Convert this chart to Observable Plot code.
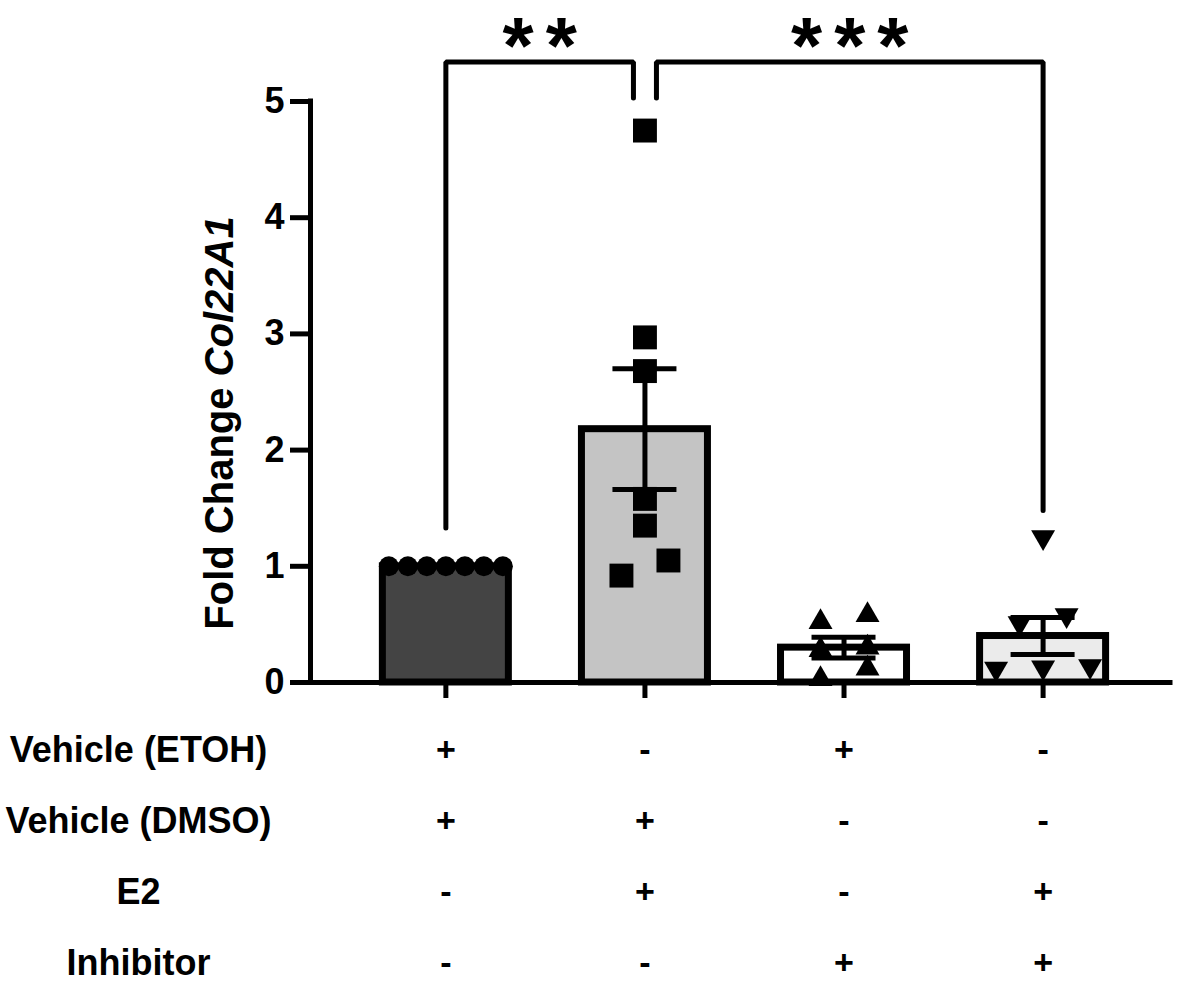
<!DOCTYPE html>
<html>
<head>
<meta charset="utf-8">
<script src="https://cdn.jsdelivr.net/npm/d3@7"></script>
<script src="https://cdn.jsdelivr.net/npm/@observablehq/plot@0.6"></script>
<style>
  body { margin: 0; background: #fff; }
  #chart svg { display: block; }
</style>
</head>
<body>
<div id="chart"></div>
<script>
// ---------- data ----------
const groupNames = ["Vehicle", "E2", "Inhibitor", "E2 + Inhibitor"];
const barMeans = [1.00, 2.18, 0.30, 0.40];
const barSEM = [0, 0.52, 0.09, 0.16];
const pointsVehicle = [1, 1, 1, 1, 1, 1, 1];
const pointsE2 = [4.75, 2.97, 2.68, 1.58, 1.35, 1.05, 0.92];
const pointsInhibitor = [0.58, 0.52, 0.30, 0.28, 0.12, 0.03];
const pointsE2Inhibitor = [1.25, 0.58, 0.51, 0.14, 0.13, 0.12];
const yTicks = [0, 1, 2, 3, 4, 5];
const yLabelMain = "Fold Change ";
const yLabelGene = "Col22A1";
const rowLabels = ["Vehicle (ETOH)", "Vehicle (DMSO)", "E2", "Inhibitor"];
const rowSigns = [
  ["+", "-", "+", "-"],
  ["+", "+", "-", "-"],
  ["-", "+", "-", "+"],
  ["-", "-", "+", "+"]
];
const compFrom = [0, 1];
const compTo = [1, 3];
const compLabels = ["**", "***"];
const compEndFrom = [1.33, 5.03];
const compEndTo = [5.03, 1.48];
const compLevel = 5.34;

// ---------- styles / layout ----------
const barColors = ["#444444", "#c4c4c4", "#ffffff", "#ebebeb"];
const W = 1181, H = 700, mL = 310, mR = 11, mT = 101, mB = 18;
const xDomain = [-0.68, 3.64];
const yDomain = [0, 5];
const pxPerX = (W - mL - mR) / (xDomain[1] - xDomain[0]);
const pxPerY = (H - mT - mB) / (yDomain[1] - yDomain[0]);
const barHalf = 63 / pxPerX;
const capHalf = 32 / pxPerX;
const gap = 11.5 / pxPerX;
const font = "'Liberation Sans', Arial, sans-serif";

// beeswarm-like layout (rows of nearby values centred on the group)
function swarm(values, gi, rowPx = 22, maxStep = 47, maxSpread = 114) {
  const sorted = values.map((v, k) => ({v, k})).sort((a, b) => a.v - b.v);
  const rows = [];
  for (const p of sorted) {
    const last = rows[rows.length - 1];
    if (last && (p.v - last[0].v) * pxPerY < rowPx) last.push(p);
    else rows.push([p]);
  }
  const out = [];
  for (const row of rows) {
    const n = row.length;
    const s = n > 1 ? Math.min(maxStep, maxSpread / (n - 1)) : 0;
    row.forEach((p, j) => out.push({group: groupNames[gi], value: p.v, x: gi + ((j - (n - 1) / 2) * s) / pxPerX}));
  }
  return out;
}

const bars = groupNames.map((g, i) => ({group: g, i, mean: barMeans[i], lo: barMeans[i] - barSEM[i], hi: barMeans[i] + barSEM[i], sem: barSEM[i]}));
const errs = bars.filter(d => d.sem > 0);

const downTriangle = {
  draw(context, size) {
    const y = Math.sqrt(size / (Math.sqrt(3) * 3));
    context.moveTo(0, 2 * y);
    context.lineTo(Math.sqrt(3) * y, -y);
    context.lineTo(-Math.sqrt(3) * y, -y);
    context.closePath();
  }
};

// brackets
const endpointCount = {};
compFrom.forEach((f, k) => { endpointCount[f] = (endpointCount[f] || 0) + 1; endpointCount[compTo[k]] = (endpointCount[compTo[k]] || 0) + 1; });
const bracketPts = [];
const comps = [];
compFrom.forEach((f, k) => {
  const t = compTo[k];
  const xa = f + (endpointCount[f] > 1 ? gap : 0);
  const xb = t - (endpointCount[t] > 1 ? gap : 0);
  bracketPts.push({k, x: xa, y: compEndFrom[k]}, {k, x: xa, y: compLevel}, {k, x: xb, y: compLevel}, {k, x: xb, y: compEndTo[k]});
  comps.push({x: (xa + xb) / 2, label: compLabels[k]});
});

const starSpacing = 12;

const chart = Plot.plot({
  width: W, height: H,
  marginLeft: mL, marginRight: mR, marginTop: mT, marginBottom: mB,
  style: {fontFamily: font, fontWeight: "bold", background: "white", color: "black", overflow: "visible"},
  x: {domain: xDomain, axis: null},
  y: {domain: yDomain, axis: null},
  color: {domain: groupNames, range: barColors},
  marks: [
    Plot.rectY(bars, {x1: d => d.i - barHalf, x2: d => d.i + barHalf, y1: 0, y2: "mean", fill: "group", stroke: "black", strokeWidth: 7}),
    Plot.ruleY([0], {strokeWidth: 5, strokeLinecap: "square"}),
    Plot.ruleX([xDomain[0]], {y1: yDomain[0], y2: yDomain[1], strokeWidth: 5, strokeLinecap: "square"}),
    Plot.axisY({ticks: yTicks, tickFormat: d => String(d), tickSize: 20, tickPadding: 6, fontSize: 36, fontWeight: "bold", strokeWidth: 5, label: null}),
    Plot.axisX({ticks: [0, 1, 2, 3], tickSize: 16, strokeWidth: 5, tickFormat: () => "", label: null}),
    Plot.dot(swarm(pointsVehicle, 0), {x: "x", y: "value", r: 10, symbol: "circle", fill: "black"}),
    Plot.dot(swarm(pointsE2, 1), {x: "x", y: "value", r: 13.5, symbol: "square", fill: "black"}),
    Plot.dot(swarm(pointsInhibitor, 2), {x: "x", y: "value", r: 8.9, symbol: "triangle", fill: "black"}),
    Plot.dot(swarm(pointsE2Inhibitor, 3), {x: "x", y: "value", r: 8.9, symbol: downTriangle, fill: "black"}),
    Plot.ruleX(errs, {x: "i", y1: "lo", y2: "hi", strokeWidth: 5}),
    Plot.ruleY(errs, {y: "hi", x1: d => d.i - capHalf, x2: d => d.i + capHalf, strokeWidth: 5}),
    Plot.ruleY(errs, {y: "lo", x1: d => d.i - capHalf, x2: d => d.i + capHalf, strokeWidth: 5}),
    Plot.line(bracketPts, {x: "x", y: "y", z: "k", stroke: "black", strokeWidth: 5, strokeLinejoin: "miter"}),
    Plot.text(comps, {x: "x", y: () => compLevel, text: "label", fontSize: 80, fontWeight: "bold", dy: -15, dx: starSpacing / 2}),
    Plot.text([yLabelMain + yLabelGene], {frameAnchor: "left", textAnchor: "middle", rotate: -90, dx: -90, dy: 31, fontSize: 40, fontWeight: "bold", text: d => d})
  ]
});

// letter spacing of the significance stars
Array.from(chart.querySelectorAll("text")).filter(t => compLabels.includes(t.textContent))
  .forEach(t => t.setAttribute("letter-spacing", starSpacing));

// italic gene name in the y label
const lbl = Array.from(chart.querySelectorAll("text")).find(t => t.textContent === yLabelMain + yLabelGene);
if (lbl) {
  lbl.textContent = "";
  const ns = "http://www.w3.org/2000/svg";
  lbl.setAttribute("style", "white-space: pre");
  lbl.setAttribute("text-anchor", "middle");
  const t1 = document.createElementNS(ns, "tspan");
  t1.textContent = yLabelMain;
  const t2 = document.createElementNS(ns, "tspan");
  t2.textContent = yLabelGene;
  t2.setAttribute("font-style", "italic");
  lbl.appendChild(t1);
  lbl.appendChild(t2);
}

// condition table below the chart
const signCells = [];
rowLabels.forEach((r, ri) => rowSigns[ri].forEach((s, gi) => signCells.push({row: r, i: gi, sign: s})));

const table = Plot.plot({
  width: W, height: 283,
  marginLeft: mL, marginRight: mR, marginTop: 0, marginBottom: 0,
  style: {fontFamily: font, fontWeight: "bold", background: "white", color: "black", overflow: "visible"},
  x: {domain: xDomain, axis: null},
  y: {type: "point", domain: rowLabels, range: [49, 264], padding: 0, axis: null},
  marks: [
    Plot.text(rowLabels, {y: d => d, text: d => d, frameAnchor: "left", textAnchor: "middle", dx: -172, fontSize: 36, fontWeight: "bold"}),
    Plot.text(signCells, {x: "i", y: "row", text: "sign", fontSize: 34, fontWeight: "bold"})
  ]
});

document.getElementById("chart").append(chart, table);
</script>
</body>
</html>
